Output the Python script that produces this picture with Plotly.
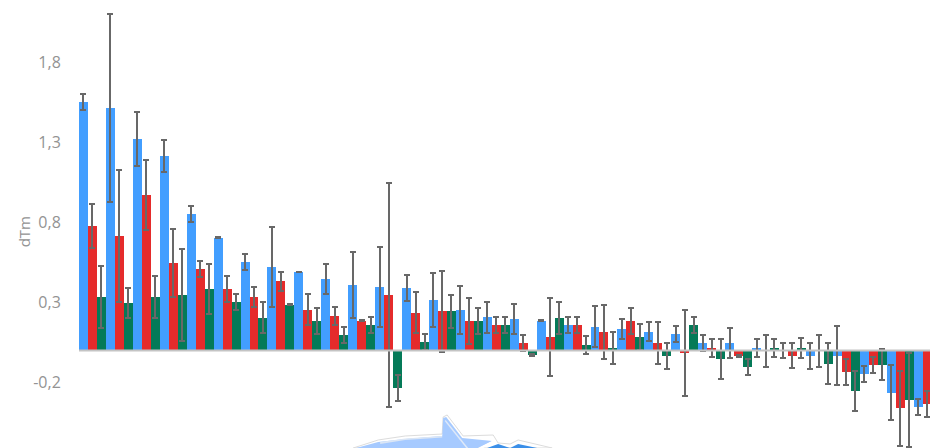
import plotly.graph_objects as go

groups = [str(i) for i in range(32)]
blue = [1.554,1.516,1.32,1.216,.854,.704,.554,.522,.491,.448,.408,.398,.389,.316,.254,.208,.198,.185,.158,.148,.137,.118,.106,.046,.046,.016,0.0,-.032,-.032,-.144,-.263,-.353]
blue_err = [.05,.5875,.169,.1,.05,.003,.05,.25,.003,.094,.206,.25,.081,.171,.151,.098,.096,.003,.05,.128,.0625,.061,.05,.05,.094,.056,.048,.081,.183,.05,.171,.05]
red = [.779,.716,.973,.547,.51,.385,.335,.434,.254,.216,.187,.348,.237,.246,.185,.158,.046,.085,.158,.118,.185,.046,-.013,.016,-.032,-.002,-.032,-.002,-.132,-.09,-.361,-.332]
red_err = [.1375,.4125,.219,.2125,.05,.081,.0625,.059,.097,.056,.003,.7,.129,.254,.142,.05,.05,.241,.05,.169,.081,.131,.269,.056,.006,.098,.079,.098,.081,.05,.236,.081]
green = [.335,.296,.335,.348,.385,.304,.204,.285,.185,.098,.158,-.232,.056,.246,.185,.158,-.029,.206,.037,.016,.085,-.032,.158,-.053,-.103,.016,.016,-.082,-.254,-.09,-.311,None]
green_err = [.191,.094,.131,.2875,.159,.05,.097,.003,.081,.05,.05,.081,.05,.102,.081,.05,.006,.1,.056,.1,.081,.081,.05,.125,.05,.056,.061,.129,.125,.097,.294,0]
tick_vals = [-0.2, 0.3, 0.8, 1.3, 1.8]
tick_text = ["-0,2", "0,3", "0,8", "1,3", "1,8"]

W, H, L = 930, 448, 78.7

def bar(vals, errs, color):
    return go.Bar(x=list(range(32)), y=vals, marker=dict(color=color, line=dict(width=0)),
                  error_y=dict(type="data", array=errs, visible=True, color="#686868", thickness=2, width=3))

fig = go.Figure([bar(blue, blue_err, "#429eff"), bar(red, red_err, "#e52b2b"), bar(green, green_err, "#047a58")])

def path(points):
    return "M " + " L ".join(f"{(x-L)/(W-L):.4f},{1-y/H:.4f}" for x, y in points) + " Z"

def logo(points, fill, line=None, width=0):
    return dict(type="path", xref="paper", yref="paper", path=path(points), fillcolor=fill,
                line=dict(color=line or "rgba(0,0,0,0)", width=width), layer="below")

shapes = [
    logo([(353,448),(378,440),(405,436),(442,434),(443,417),(447,415),(463,436),(493,435),(498,443),(510,444),(518,440),(552,448)], "#ffffff", "#dcdcdc", 1),
    logo([(356,448),(378,442),(405,439),(442,436),(443,418),(446,417),(462,438),(492,441),(478,448)], "#a6caff"),
    logo([(380,442),(405,438.5),(442,436),(442,437.5),(405,440),(380,444)], "#dbe6f5"),
    logo([(445.5,420),(468,448),(466,448),(444.5,421)], "#dfe9f8"),
    logo([(478,448),(492,441),(494,442),(483,448)], "#ffffff"),
    logo([(487,448),(498,444),(510,448)], "#3b8fe8"),
    logo([(510,448),(518,444),(537,448)], "#3b8fe8"),
    dict(type="line", xref="paper", yref="y", x0=0, x1=1, y0=0, y1=0,
         line=dict(color="#c4c4c4", width=2), layer="above"),
]

fig.update_layout(
    width=W, height=H, barmode="group", bargap=0, bargroupgap=0, showlegend=False,
    template="none", plot_bgcolor="rgba(0,0,0,0)", paper_bgcolor="#ffffff",
    margin=dict(l=L, r=0, t=0, b=0),
    font=dict(family="Open Sans", size=16, color="#939393"),
    shapes=shapes,
    annotations=[dict(text="dTm", xref="paper", yref="paper", x=(24-L)/(W-L), y=1-232/H,
                      xanchor="center", yanchor="middle", textangle=-90, showarrow=False,
                      font=dict(size=15, color="#939393"))],
)
fig.update_xaxes(range=[-0.5, 31.11], showticklabels=False, showgrid=False, zeroline=False, showline=False, ticks="")
fig.update_yaxes(range=[-0.609, 2.191], tickmode="array", tickvals=tick_vals, ticktext=tick_text, showgrid=False, zeroline=False,
                 showline=False, ticks="outside", ticklen=14, tickcolor="rgba(0,0,0,0)", tickwidth=0)
fig.write_html("out.html", config=dict(displayModeBar=False),
               post_script="document.body.style.margin='0';document.body.style.overflow='hidden';")
